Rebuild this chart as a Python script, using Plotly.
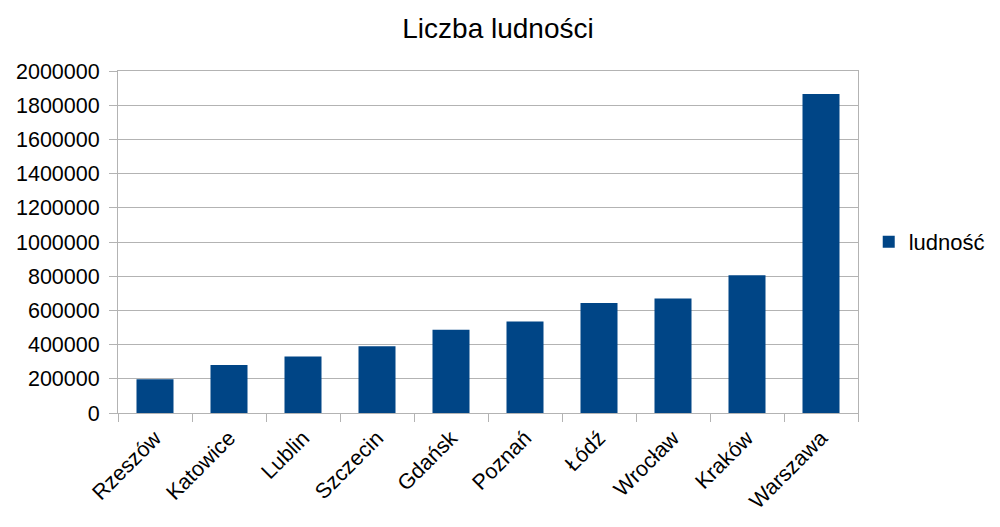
import plotly.graph_objects as go

cities = ["Rzeszów", "Katowice", "Lublin", "Szczecin", "Gdańsk", "Poznań",
          "Łódź", "Wrocław", "Kraków", "Warszawa"]
population = [198000, 280000, 330000, 390000, 487000, 535000,
              643000, 670000, 805000, 1865000]
series_name = "ludność"
title_text = "Liczba ludności"
y_ticks = list(range(0, 2000001, 200000))

fig = go.Figure()
fig.add_trace(go.Bar(
    x=cities, y=population, name=series_name,
    marker=dict(color="#004586", line=dict(width=0)),
    width=0.5, showlegend=True,
))

grid = "#b3b3b3"
fig.update_layout(
    width=1000, height=527,
    paper_bgcolor="white", plot_bgcolor="white",
    margin=dict(l=110, r=150, t=63, b=122),
    font=dict(family="Liberation Sans, Arial, sans-serif", color="#000000", size=21),
    title=dict(text=title_text, x=0.49, xanchor="center", y=0.962, yanchor="middle",
               font=dict(size=28, color="#000000")),
    legend=dict(x=1.0145, xanchor="left", y=0.5, yanchor="middle",
                font=dict(size=22), itemwidth=30, bgcolor="rgba(0,0,0,0)"),
    bargap=0.5,
)
fig.update_xaxes(
    type="category", showline=True, linecolor=grid, linewidth=1, mirror=True,
    ticks="outside", tickson="boundaries", ticklen=8, tickcolor=grid,
    tickangle=-45, tickfont=dict(size=21.5), showgrid=False,
    ticklabelstandoff=3, automargin=False,
)
fig.update_yaxes(
    range=[0, 2000000], tickvals=y_ticks, ticktext=[str(v) for v in y_ticks],
    showgrid=True, gridcolor=grid, gridwidth=1,
    showline=True, linecolor=grid, linewidth=1, mirror=True,
    ticks="outside", ticklen=8, tickcolor=grid, tickfont=dict(size=21.5),
    ticklabelstandoff=5, zeroline=False, automargin=False,
)
fig.write_html("out.html")
